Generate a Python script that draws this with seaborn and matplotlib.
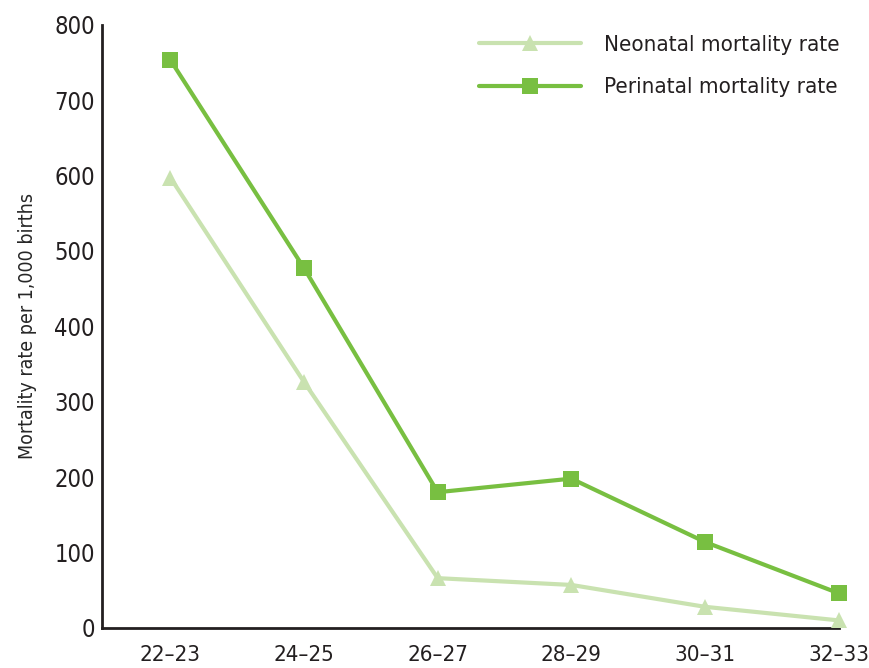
import matplotlib
matplotlib.use("Agg")
import matplotlib.pyplot as plt
import seaborn as sns
import pandas as pd

gestation_weeks = ["22–23", "24–25", "26–27", "28–29", "30–31", "32–33"]
neonatal_rate = [597, 326, 66, 57, 28, 10]
perinatal_rate = [753, 477, 180, 198, 114, 46]
series_names = ["Neonatal mortality rate", "Perinatal mortality rate"]
y_ticks = [0, 100, 200, 300, 400, 500, 600, 700, 800]

sns.set_theme(style="white")
plt.rcParams["font.family"] = ["DejaVu Sans"]
plt.rcParams["font.stretch"] = "condensed"

df = pd.DataFrame({
    "pos": list(range(len(gestation_weeks))) * 2,
    "rate": neonatal_rate + perinatal_rate,
    "series": [series_names[0]] * len(gestation_weeks) + [series_names[1]] * len(gestation_weeks),
})

palette = {series_names[0]: "#C9E2B0", series_names[1]: "#78BF41"}
markers = {series_names[0]: "^", series_names[1]: "s"}

fig, ax = plt.subplots(figsize=(8.69, 6.68), dpi=100)
fig.subplots_adjust(left=0.117, right=0.965, top=0.963, bottom=0.06)

sns.lineplot(data=df, x="pos", y="rate", hue="series", style="series",
             palette=palette, markers=markers, dashes=False,
             linewidth=3, markersize=11, markeredgewidth=0,
             ax=ax, clip_on=False, zorder=3)

ax.set_xlim(-0.515, 5.0)
ax.set_ylim(0, 800)
ax.set_xticks(range(len(gestation_weeks)))
ax.set_xticklabels(gestation_weeks)
ax.set_yticks(y_ticks)
ax.set_xlabel("")
ax.set_ylabel("Mortality rate per 1,000 births", fontsize=14, labelpad=12)

for side in ["top", "right"]:
    ax.spines[side].set_visible(False)
for side in ["left", "bottom"]:
    ax.spines[side].set_color("#231F20")
    ax.spines[side].set_linewidth(2)

ax.tick_params(axis="both", direction="in", length=10, width=2, color="#231F20",
               labelsize=17, labelcolor="#231F20")
ax.tick_params(axis="x", pad=12, labelsize=16)
ax.tick_params(axis="y", pad=5)

leg = ax.legend(loc="upper right", bbox_to_anchor=(1.028, 1.016), frameon=False,
                fontsize=16, handlelength=4.6, labelspacing=1.0, handletextpad=1.0)
for t in leg.get_texts():
    t.set_color("#231F20")

fig.savefig("out.png", dpi=100)
